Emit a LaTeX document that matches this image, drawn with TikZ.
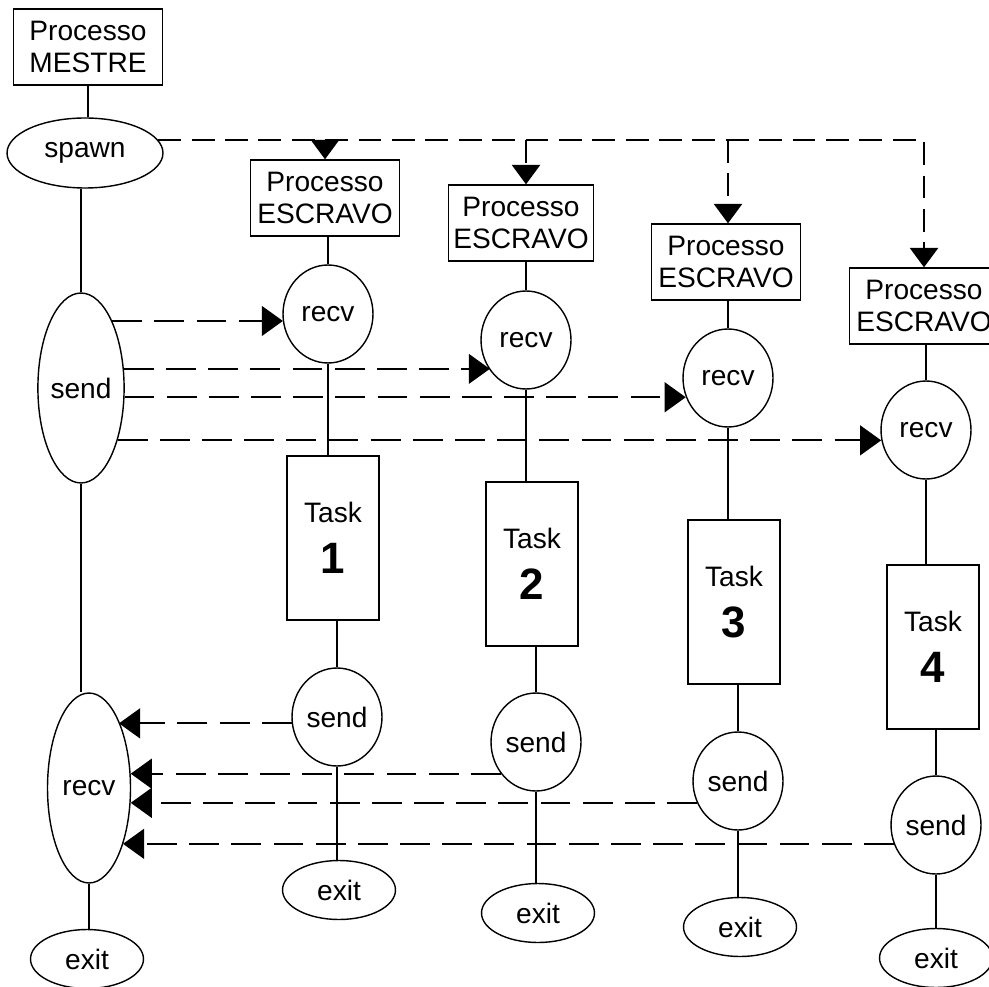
\documentclass[tikz,border=0pt]{standalone}
\usepackage{fontspec}
\setmainfont{Liberation Sans}
\usetikzlibrary{arrows.meta,shapes.geometric}
\tikzset{
  box/.style={draw, rectangle, line width=0.8pt, inner sep=0pt, align=center,
              font=\fontsize{16}{18}\selectfont},
  procbox/.style={box, minimum width=2.98cm, minimum height=1.52cm},
  taskbox/.style={box, minimum width=1.84cm, minimum height=3.28cm},
  oval/.style={draw, ellipse, line width=0.8pt, inner sep=0pt,
               font=\fontsize{16}{18}\selectfont},
  circ/.style={oval, minimum width=1.8cm, minimum height=1.96cm},
  endoval/.style={oval, minimum width=2.26cm, minimum height=1.18cm},
  link/.style={line width=1pt},
  spawnmsg/.style={line width=1pt, dash pattern=on 13pt off 6pt,
                   -{Triangle[length=11pt,width=16pt]}},
  msg/.style={line width=1pt, dash pattern=on 17pt off 7pt,
              -{Triangle[length=12pt,width=17pt]}}
}
\newcommand{\tasklabel}[1]{Task\\[11pt]{\fontsize{25}{25}\selectfont\bfseries #1}}

\begin{document}
\begin{tikzpicture}[x=0.02cm,y=-0.02cm]
  \useasboundingbox (0,0) rectangle (989,986);

  % master process
  \node[procbox] (mestre) at (88,47) {Processo\\MESTRE};
  \node[oval, minimum width=3.12cm, minimum height=1.4cm] (spawn) at (85,153) {spawn};
  \node[oval, minimum width=1.68cm, minimum height=3.8cm] (sendM) at (81,388) {send};
  \node[oval, minimum width=1.66cm, minimum height=3.8cm] (recvM) at (89,788) {recv};
  \node[endoval] (exitM) at (87,959) {exit};

  % slave processes
  \node[procbox] (esc1) at (325,198) {Processo\\ESCRAVO};
  \node[circ] (rcv1) at (328,314) {recv};
  \node[taskbox] (task1) at (333,538) {\tasklabel{1}};
  \node[circ] (snd1) at (337,717) {send};
  \node[endoval] (exit1) at (339,890) {exit};

  \node[procbox, minimum width=2.9cm] (esc2) at (521,223) {Processo\\ESCRAVO};
  \node[circ] (rcv2) at (526,340) {recv};
  \node[taskbox] (task2) at (532,564) {\tasklabel{2}};
  \node[circ] (snd2) at (536,742) {send};
  \node[endoval] (exit2) at (538,913) {exit};

  \node[procbox] (esc3) at (726,262) {Processo\\ESCRAVO};
  \node[circ] (rcv3) at (728,378) {recv};
  \node[taskbox] (task3) at (734,602) {\tasklabel{3}};
  \node[circ] (snd3) at (738,781) {send};
  \node[endoval] (exit3) at (740,927) {exit};

  \node[procbox] (esc4) at (924,306) {Processo\\ESCRAVO};
  \node[circ] (rcv4) at (926,430) {recv};
  \node[taskbox] (task4) at (933,647) {\tasklabel{4}};
  \node[circ] (snd4) at (936,825) {send};
  \node[endoval] (exit4) at (936,958) {exit};

  % life lines
  \draw[link] (mestre.south) -- (mestre.south |- spawn.north)
              (sendM.north) -- (sendM.north |- spawn.south)
              (sendM.south) -- (sendM.south |- recvM.north)
              (recvM.south) -- (recvM.south |- exitM.north);
  \draw[link] (rcv1.north) -- (rcv1.north |- esc1.south)
              (rcv1.south) -- (rcv1.south |- task1.north)
              (snd1.north) -- (snd1.north |- task1.south)
              (snd1.south) -- (snd1.south |- exit1.north);
  \draw[link] (rcv2.north) -- (rcv2.north |- esc2.south)
              (rcv2.south) -- (rcv2.south |- task2.north)
              (snd2.north) -- (snd2.north |- task2.south)
              (snd2.south) -- (snd2.south |- exit2.north);
  \draw[link] (rcv3.north) -- (rcv3.north |- esc3.south)
              (rcv3.south) -- (rcv3.south |- task3.north)
              (snd3.north) -- (snd3.north |- task3.south)
              (snd3.south) -- (snd3.south |- exit3.north);
  \draw[link] (rcv4.north) -- (rcv4.north |- esc4.south)
              (rcv4.south) -- (rcv4.south |- task4.north)
              (snd4.north) -- (snd4.north |- task4.south)
              (snd4.south) -- (snd4.south |- exit4.north);

  % spawn
  \draw[spawnmsg] (spawn.10) -| (esc4.north);
  \draw[spawnmsg] (spawn.10 -| esc1.north) -- (esc1.north);
  \draw[spawnmsg] (spawn.10 -| rcv2.north) -- (rcv2.north |- esc2.north);
  \draw[spawnmsg] (spawn.10 -| rcv3.north) -- (rcv3.north |- esc3.north);

  % master -> slaves
  \draw[msg] (sendM.65) -- (sendM.65 -| rcv1.190);
  \draw[msg] (sendM.24) -- (sendM.24 -| rcv2.220);
  \draw[msg] (sendM.-12) -- (sendM.-12 -| rcv3.204);
  \draw[msg] (sendM.-55) -- (sendM.-55 -| rcv4.192);

  % slaves -> master
  \draw[msg] (snd1.188) -- (snd1.188 -| recvM.66);
  \draw[msg] (snd2.222) -- (snd2.222 -| recvM.19);
  \draw[msg] (snd3.208) -- (snd3.208 -| recvM.-19);
  \draw[msg] (snd4.204) -- (snd4.204 -| recvM.-59);
\end{tikzpicture}
\end{document}
